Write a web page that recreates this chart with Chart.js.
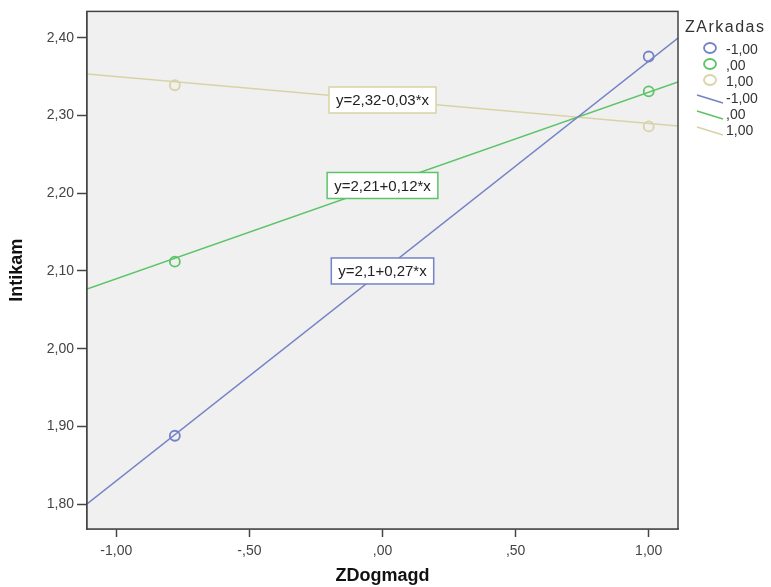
<!DOCTYPE html>
<html>
<head>
<meta charset="utf-8">
<script src="https://cdn.jsdelivr.net/npm/chart.js@4/dist/chart.umd.min.js"></script>
<style>
  body { margin: 0; background: #fff; }
  #wrap { width: 771px; height: 587px; }
</style>
</head>
<body>
<div id="wrap"><canvas id="grafica" width="771" height="587"></canvas></div>
<script>
// groups of ZArkadas
const grupos = ['-1,00', ',00', '1,00'];
const colores = ['#7482c6', '#5cc468', '#d8d3a6'];

// cell means
const puntosX = [-0.78, 1.00];
const mediasAzul = [1.888, 2.376];
const mediasVerde = [2.112, 2.331];
const mediasTan = [2.339, 2.286];

// fit lines (from the labels)
const intercepts = [2.1, 2.21, 2.32];
const pendientes = [0.27, 0.12, -0.03];
const etiquetasFit = ['y=2,1+0,27*x', 'y=2,21+0,12*x', 'y=2,32-0,03*x'];

const xTicks = [-1, -0.5, 0, 0.5, 1];
const xTickLabels = ['-1,00', '-,50', ',00', ',50', '1,00'];
const yTicks = [1.8, 1.9, 2.0, 2.1, 2.2, 2.3, 2.4];
const yTickLabels = ['1,80', '1,90', '2,00', '2,10', '2,20', '2,30', '2,40'];
const xRango = [-1.11, 1.11];
const yRango = [1.768, 2.434];

const medias = [mediasAzul, mediasVerde, mediasTan];
const fuente = '"Liberation Sans", Arial, sans-serif';

let datasets = [];
medias.forEach(function (m, i) {
  datasets.push({
    label: grupos[i],
    data: puntosX.map((x, j) => ({ x: x, y: m[j] })),
    showLine: false,
    pointRadius: 5,
    pointHoverRadius: 5,
    pointBorderWidth: 1.8,
    borderColor: colores[i],
    backgroundColor: 'rgba(0,0,0,0)'
  });
});
intercepts.forEach(function (b, i) {
  datasets.push({
    label: grupos[i],
    data: xRango.map(x => ({ x: x, y: b + pendientes[i] * x })),
    showLine: true,
    pointRadius: 0,
    borderWidth: 1.5,
    borderColor: colores[i],
    backgroundColor: colores[i]
  });
});

const fondo = {
  id: 'fondo',
  beforeDatasetsDraw(chart) {
    const { ctx, chartArea: a } = chart;
    ctx.save();
    ctx.fillStyle = '#f0f0f0';
    ctx.fillRect(a.left, a.top, a.right - a.left, a.bottom - a.top);
    ctx.restore();
  },
  afterDraw(chart) {
    const { ctx, chartArea: a, scales } = chart;
    ctx.save();
    // frame
    ctx.strokeStyle = '#444';
    ctx.lineWidth = 1.5;
    ctx.strokeRect(a.left, a.top, a.right - a.left, a.bottom - a.top);

    // equation labels at x=0, y=intercept
    ctx.font = '15px ' + fuente;
    ctx.textAlign = 'center';
    ctx.textBaseline = 'middle';
    etiquetasFit.forEach(function (t, i) {
      const px = scales.x.getPixelForValue(0);
      const py = scales.y.getPixelForValue(intercepts[i]);
      const w = ctx.measureText(t).width + 14;
      const h = 26;
      ctx.fillStyle = '#fff';
      ctx.fillRect(px - w / 2, py - h / 2, w, h);
      ctx.strokeStyle = colores[i];
      ctx.lineWidth = 1.5;
      ctx.strokeRect(px - w / 2, py - h / 2, w, h);
      ctx.fillStyle = '#222';
      ctx.fillText(t, px, py + 1);
    });

    // legend
    ctx.textAlign = 'left';
    ctx.fillStyle = '#333';
    ctx.font = '16px ' + fuente;
    ctx.letterSpacing = '1.5px';
    ctx.fillText('ZArkadas', 685, 28);
    ctx.font = '14px ' + fuente;
    ctx.letterSpacing = '0px';
    const filas = [50, 66, 82, 99, 115, 131];
    grupos.forEach(function (g, i) {
      const y = filas[i];
      ctx.strokeStyle = colores[i];
      ctx.lineWidth = 1.8;
      ctx.beginPath();
      ctx.ellipse(710, y - 2, 6, 5, 0, 0, Math.PI * 2);
      ctx.stroke();
      ctx.fillStyle = '#333';
      ctx.fillText(g, 726, y);
    });
    grupos.forEach(function (g, i) {
      const y = filas[i + 3];
      ctx.strokeStyle = colores[i];
      ctx.lineWidth = 1.5;
      ctx.beginPath();
      ctx.moveTo(697, y - 4);
      ctx.lineTo(723, y + 4);
      ctx.stroke();
      ctx.fillStyle = '#333';
      ctx.fillText(g, 726, y);
    });
    ctx.restore();
  }
};

const ctx = document.getElementById('grafica').getContext('2d');
const chart = new Chart(ctx, {
  type: 'scatter',
  data: { datasets: datasets },
  options: {
    responsive: false,
    animation: false,
    layout: { padding: { top: 11, right: 93, left: 0, bottom: 0 } },
    plugins: {
      legend: { display: false },
      tooltip: { enabled: false }
    },
    scales: {
      x: {
        type: 'linear',
        min: xRango[0],
        max: xRango[1],
        afterBuildTicks: s => { s.ticks = xTicks.map(v => ({ value: v })); },
        afterFit: s => { s.height = 58; },
        ticks: {
          callback: (v, i) => xTickLabels[i],
          color: '#444',
          font: { size: 14, family: fuente },
          padding: 6,
          maxRotation: 0
        },
        grid: { drawOnChartArea: false, tickLength: 8, color: '#444', tickWidth: 1.5 },
        border: { color: '#444', width: 1.5 },
        title: {
          display: true,
          text: 'ZDogmagd',
          color: '#111',
          font: { size: 18, weight: 'bold', family: fuente },
          padding: { top: 0, bottom: 0 }
        }
      },
      y: {
        type: 'linear',
        min: yRango[0],
        max: yRango[1],
        afterBuildTicks: s => { s.ticks = yTicks.map(v => ({ value: v })); },
        afterFit: s => { s.width = 87; },
        ticks: {
          callback: (v, i) => yTickLabels[i],
          color: '#444',
          font: { size: 14, family: fuente },
          padding: 3
        },
        grid: { drawOnChartArea: false, tickLength: 10, color: '#444', tickWidth: 1.5 },
        border: { color: '#444', width: 1.5 },
        title: {
          display: true,
          text: 'Intikam',
          color: '#111',
          font: { size: 18, weight: 'bold', family: '"Liberation Sans Narrow", "Liberation Sans", Arial, sans-serif' },
          padding: { top: 6, bottom: 0 }
        }
      }
    }
  },
  plugins: [fondo]
});
</script>
</body>
</html>
